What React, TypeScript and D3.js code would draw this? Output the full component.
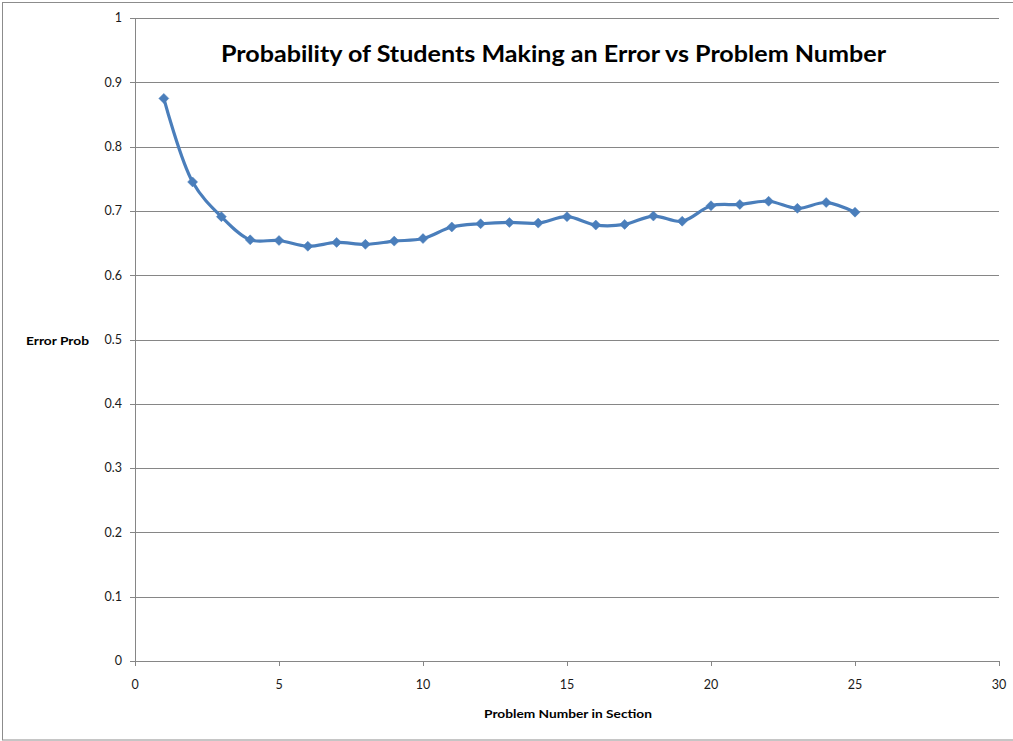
import React from "react";
import * as d3 from "d3";

const problemNumbers = [1, 2, 3, 4, 5, 6, 7, 8, 9, 10, 11, 12, 13, 14, 15, 16, 17, 18, 19, 20, 21, 22, 23, 24, 25];
const errorProb = [0.875, 0.745, 0.691, 0.655, 0.654, 0.645, 0.651, 0.648, 0.653, 0.657, 0.675, 0.680, 0.682, 0.681, 0.691, 0.678, 0.679, 0.692, 0.684, 0.708, 0.710, 0.715, 0.704, 0.713, 0.698];
const yTicks = [0, 0.1, 0.2, 0.3, 0.4, 0.5, 0.6, 0.7, 0.8, 0.9, 1];
const xTicks = [0, 5, 10, 15, 20, 25, 30];

const W = 1013;
const H = 741;
const FONT = "Lato, 'Open Sans', sans-serif";

export default function App() {
  const x = d3.scaleLinear().domain([0, 30]).range([135, 999]);
  const y = d3.scaleLinear().domain([0, 1]).range([661, 18]);
  const pts = problemNumbers.map((n, i) => [x(n), y(errorProb[i])] as [number, number]);
  const line = d3.line().curve(d3.curveCatmullRom.alpha(0.5))(pts) || "";
  const diamond = (cx: number, cy: number, r: number) =>
    `M${cx},${cy - r}L${cx + r},${cy}L${cx},${cy + r}L${cx - r},${cy}Z`;
  const grid = "#868686";
  return (
    <svg width={W} height={H} style={{ position: "absolute", left: 0, top: 0 }}>
      <rect x={0} y={0} width={W} height={H} fill="#fff" />
      <rect x={2.5} y={2.5} width={W + 10} height={737.5} fill="none" stroke="#8c8c8c" strokeWidth={1} />
      {yTicks.map((t) => (
        <g key={"y" + t}>
          <line x1={130} x2={999} y1={Math.round(y(t)) + 0.5} y2={Math.round(y(t)) + 0.5} stroke={grid} strokeWidth={1} />
          <text x={122} y={y(t)} dy="0.35em" textAnchor="end" fontFamily={FONT} fontSize={12.5} fill="#1a1a1a">
            {t === 0 || t === 1 ? String(t) : t.toFixed(1)}
          </text>
        </g>
      ))}
      <line x1={135.5} x2={135.5} y1={18} y2={661} stroke={grid} strokeWidth={1} />
      {xTicks.map((t) => (
        <g key={"x" + t}>
          <line x1={Math.round(x(t)) + 0.5} x2={Math.round(x(t)) + 0.5} y1={661} y2={666} stroke={grid} strokeWidth={1} />
          <text x={x(t)} y={685} dy="0.35em" textAnchor="middle" fontFamily={FONT} fontSize={12.5} fill="#1a1a1a">
            {t}
          </text>
        </g>
      ))}
      <path d={line} fill="none" stroke="#4a7ebb" strokeWidth={3.2} strokeLinejoin="round" />
      {pts.map(([cx, cy], i) => (
        <path key={"m" + i} d={diamond(cx, cy, 5)} fill="#4a7ebb" stroke="#4a7ebb" strokeWidth={0.5} />
      ))}
      <text x={221} y={62} fontFamily={FONT} fontWeight="bold" fontSize={22} fill="#000" textLength={665} lengthAdjust="spacingAndGlyphs">
        Probability of Students Making an Error vs Problem Number
      </text>
      <text x={26} y={345} fontFamily={FONT} fontWeight="bold" fontSize={12} fill="#000" textLength={63} lengthAdjust="spacingAndGlyphs">
        Error Prob
      </text>
      <text x={484} y={718} fontFamily={FONT} fontWeight="bold" fontSize={12} fill="#000" textLength={168} lengthAdjust="spacingAndGlyphs">
        Problem Number in Section
      </text>
    </svg>
  );
}
